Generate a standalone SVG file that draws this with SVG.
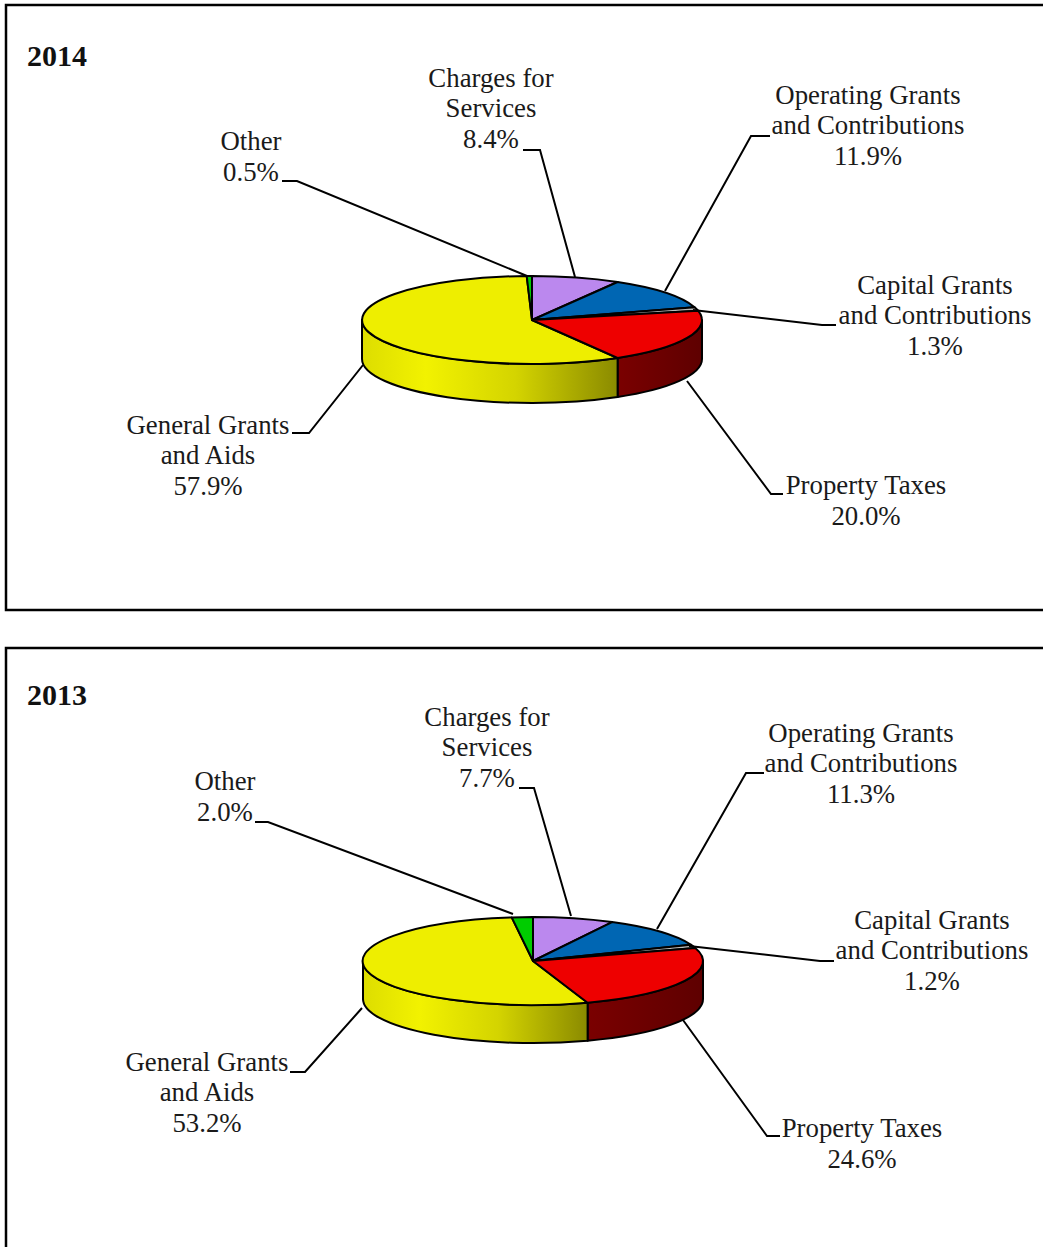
<svg xmlns="http://www.w3.org/2000/svg" width="1043" height="1247" viewBox="0 0 1043 1247">
<style>
.frame{fill:#fff;stroke:#000;stroke-width:2.5}
.lbl{font-family:"Liberation Serif","Times New Roman",serif;font-size:26.8px;fill:#1a1a1a;text-anchor:middle}
.title{font-family:"Liberation Serif","Times New Roman",serif;font-size:30px;font-weight:bold;fill:#111}
.sl{stroke:#000;stroke-width:2;stroke-linejoin:round}
.lead{fill:none;stroke:#000;stroke-width:2}
.yel{fill:#EEEE00}.red{fill:#EE0000}.pur{fill:#BB88EE}.blu{fill:#0066B3}.grn{fill:#00CC00}.cap{fill:#BBBBBB}
</style>
<defs>
<linearGradient id="ys14" gradientUnits="userSpaceOnUse" x1="362" y1="0" x2="618" y2="0">
<stop offset="0" stop-color="#DDDD00"/><stop offset="0.25" stop-color="#F2F200"/><stop offset="0.6" stop-color="#D4D400"/><stop offset="1" stop-color="#8A8A00"/>
</linearGradient>
<linearGradient id="ys13" gradientUnits="userSpaceOnUse" x1="363" y1="0" x2="588" y2="0">
<stop offset="0" stop-color="#DDDD00"/><stop offset="0.25" stop-color="#F2F200"/><stop offset="0.6" stop-color="#D4D400"/><stop offset="1" stop-color="#8A8A00"/>
</linearGradient>
<linearGradient id="rs14" gradientUnits="userSpaceOnUse" x1="618" y1="0" x2="702" y2="0">
<stop offset="0" stop-color="#7A0000"/><stop offset="1" stop-color="#5E0000"/>
</linearGradient>
<linearGradient id="rs13" gradientUnits="userSpaceOnUse" x1="588" y1="0" x2="703" y2="0">
<stop offset="0" stop-color="#7A0000"/><stop offset="1" stop-color="#5E0000"/>
</linearGradient>
</defs>

<rect class="frame" x="6" y="5" width="1060" height="605"/>
<rect class="frame" x="6" y="648" width="1060" height="620"/>

<g id="chart2014">
<text class="title" x="27" y="66">2014</text>
<g id="pie2014">
<path class="sl" fill="url(#rs14)" d="M702,320 A170,44 0 0 1 617.6,358 L617.6,397 A170,44 0 0 0 702,359 Z"/>
<path class="sl" fill="url(#ys14)" d="M617.6,358 A170,44 0 0 1 362,320 L362,359 A170,44 0 0 0 617.6,397 Z"/>
<path id="s14-general" class="sl yel" d="M532,320 L617.6,358 A170,44 0 1 1 526.7,276 Z"/>
<path id="s14-other" class="sl grn" d="M532,320 L526.7,276 A170,44 0 0 1 532,276 Z"/>
<path id="s14-charges" class="sl pur" d="M532,320 L532,276 A170,44 0 0 1 617.6,282 Z"/>
<path id="s14-operating" class="sl blu" d="M532,320 L617.6,282 A170,44 0 0 1 694.6,307.2 Z"/>
<path id="s14-capital" class="sl cap" d="M532,320 L694.6,307.2 A170,44 0 0 1 698.1,310.7 Z"/>
<path id="s14-property" class="sl red" d="M532,320 L698.1,310.7 A170,44 0 0 1 617.6,358 Z"/>
</g>
<g id="lbl14-charges"><text class="lbl" x="491" y="87">Charges for</text><text class="lbl" x="491" y="117">Services</text><text class="lbl" x="491" y="148">8.4%</text></g>
<g id="lbl14-operating"><text class="lbl" x="868" y="104">Operating Grants</text><text class="lbl" x="868" y="134">and Contributions</text><text class="lbl" x="868" y="165">11.9%</text></g>
<g id="lbl14-other"><text class="lbl" x="251" y="150">Other</text><text class="lbl" x="251" y="181">0.5%</text></g>
<g id="lbl14-capital"><text class="lbl" x="935" y="294">Capital Grants</text><text class="lbl" x="935" y="324">and Contributions</text><text class="lbl" x="935" y="355">1.3%</text></g>
<g id="lbl14-general"><text class="lbl" x="208" y="434">General Grants</text><text class="lbl" x="208" y="464">and Aids</text><text class="lbl" x="208" y="495">57.9%</text></g>
<g id="lbl14-property"><text class="lbl" x="866" y="494">Property Taxes</text><text class="lbl" x="866" y="525">20.0%</text></g>
</g>

<g id="chart2013">
<text class="title" x="27" y="705">2013</text>
<g id="pie2013">
<path class="sl" fill="url(#rs13)" d="M703,961 A170,44 0 0 1 587.6,1002.7 L587.6,1040.7 A170,44 0 0 0 703,999 Z"/>
<path class="sl" fill="url(#ys13)" d="M587.6,1002.7 A170,44 0 0 1 363,961 L363,999 A170,44 0 0 0 587.6,1040.7 Z"/>
<path id="s13-general" class="sl yel" d="M533,961 L587.6,1002.7 A170,44 0 1 1 511.7,917.4 Z"/>
<path id="s13-other" class="sl grn" d="M533,961 L511.7,917.4 A170,44 0 0 1 533,917 Z"/>
<path id="s13-charges" class="sl pur" d="M533,961 L533,917 A170,44 0 0 1 612.1,922.1 Z"/>
<path id="s13-operating" class="sl blu" d="M533,961 L612.1,922.1 A170,44 0 0 1 691.1,944.8 Z"/>
<path id="s13-capital" class="sl cap" d="M533,961 L691.1,944.8 A170,44 0 0 1 695.3,947.9 Z"/>
<path id="s13-property" class="sl red" d="M533,961 L695.3,947.9 A170,44 0 0 1 587.6,1002.7 Z"/>
</g>
<g id="lbl13-charges"><text class="lbl" x="487" y="726">Charges for</text><text class="lbl" x="487" y="756">Services</text><text class="lbl" x="487" y="787">7.7%</text></g>
<g id="lbl13-operating"><text class="lbl" x="861" y="742">Operating Grants</text><text class="lbl" x="861" y="772">and Contributions</text><text class="lbl" x="861" y="803">11.3%</text></g>
<g id="lbl13-other"><text class="lbl" x="225" y="790">Other</text><text class="lbl" x="225" y="821">2.0%</text></g>
<g id="lbl13-capital"><text class="lbl" x="932" y="929">Capital Grants</text><text class="lbl" x="932" y="959">and Contributions</text><text class="lbl" x="932" y="990">1.2%</text></g>
<g id="lbl13-general"><text class="lbl" x="207" y="1071">General Grants</text><text class="lbl" x="207" y="1101">and Aids</text><text class="lbl" x="207" y="1132">53.2%</text></g>
<g id="lbl13-property"><text class="lbl" x="862" y="1137">Property Taxes</text><text class="lbl" x="862" y="1168">24.6%</text></g>
</g>

<g id="connectors">
<polyline class="lead" points="282,181 297,181 527,276"/>
<polyline class="lead" points="523,150 540,150 575,277"/>
<polyline class="lead" points="770,136 751,136 665,291"/>
<polyline class="lead" points="693,310 822,325 836,325"/>
<polyline class="lead" points="687,381 771,494 783,494"/>
<polyline class="lead" points="363,365 309,433 292,433"/>
<polyline class="lead" points="255,822 268,822 513,914"/>
<polyline class="lead" points="519,788 534,788 571,916"/>
<polyline class="lead" points="764,773 746,773 657,929"/>
<polyline class="lead" points="689,946 820,961 834,961"/>
<polyline class="lead" points="683,1020 767,1136 780,1136"/>
<polyline class="lead" points="362,1008 305,1072 290,1072"/>
</g>
</svg>
